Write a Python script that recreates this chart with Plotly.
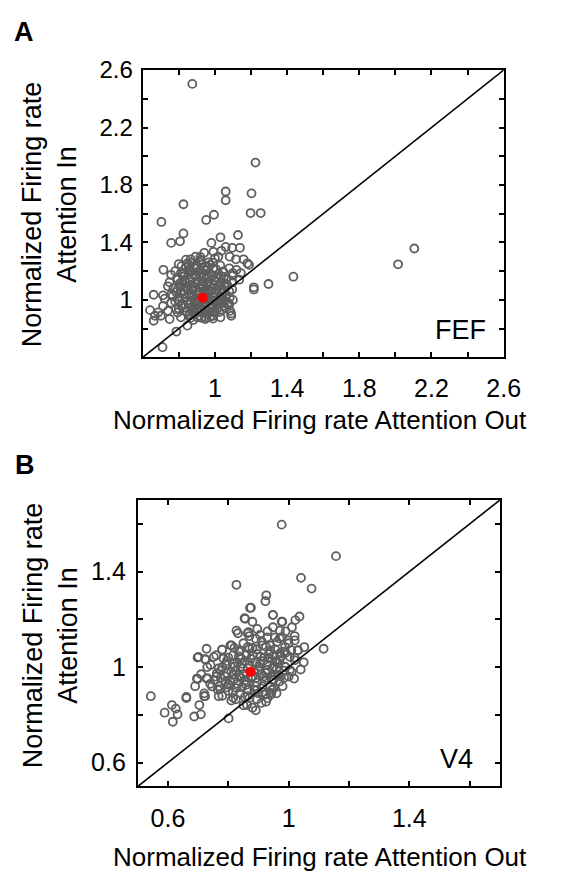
import plotly.graph_objects as go

# ---------------- data ----------------
# Panel A (FEF): (attention out, attention in) normalized firing rates
fef_points = [
    (0.875, 2.504), (1.225, 1.956), (1.060, 1.755), (1.203, 1.742), (1.060, 1.694),
    (0.826, 1.666), (0.995, 1.593), (0.952, 1.557), (1.198, 1.605), (1.254, 1.605),
    (0.704, 1.543), (0.826, 1.463), (0.758, 1.397), (0.807, 1.408), (1.128, 1.452),
    (1.031, 1.436), (0.981, 1.397), (2.105, 1.358), (2.015, 1.248), (1.435, 1.162),
    (1.297, 1.111), (1.216, 1.088), (1.216, 1.073), (0.715, 1.210), (0.661, 1.036),
    (0.641, 0.929), (0.661, 0.855), (0.787, 0.780), (0.848, 0.821), (0.710, 0.671),
    (1.090, 0.906), (1.031, 0.879),
    (0.848, 1.255), (0.866, 1.283), (0.893, 1.301), (0.920, 1.278), (0.941, 1.328),
    (0.965, 1.262), (0.992, 1.335), (1.019, 1.301), (1.037, 1.342), (1.060, 1.369),
    (1.082, 1.301), (1.096, 1.363), (1.117, 1.283), (1.139, 1.363), (1.159, 1.283),
    (1.180, 1.255), (1.189, 1.244), (1.144, 1.187), (1.099, 1.187), (1.046, 1.198),
    (0.992, 1.221), (0.947, 1.210), (0.902, 1.221), (0.857, 1.210), (0.812, 1.187),
    (0.758, 1.175), (0.749, 1.123), (0.794, 1.141), (0.830, 1.164), (0.875, 1.152),
    (0.920, 1.164), (0.965, 1.152), (1.010, 1.152), (1.064, 1.141), (1.099, 1.123),
    (1.135, 1.141), (1.096, 1.073), (1.055, 1.095), (1.019, 1.095), (0.974, 1.095),
    (0.929, 1.107), (0.884, 1.095), (0.839, 1.095), (0.794, 1.073), (0.740, 1.095),
    (0.713, 1.032), (0.722, 1.009), (0.767, 1.027), (0.812, 1.050), (0.857, 1.038),
    (0.902, 1.050), (0.947, 1.038), (0.992, 1.027), (1.037, 1.050), (1.082, 1.016),
    (1.073, 0.981), (1.028, 0.986), (0.983, 0.970), (0.938, 0.981), (0.893, 0.981),
    (0.848, 0.993), (0.803, 0.993), (0.758, 0.981), (0.713, 0.958), (0.686, 0.913),
    (0.740, 0.924), (0.785, 0.936), (0.830, 0.947), (0.875, 0.931), (0.920, 0.947),
    (0.965, 0.924), (1.010, 0.936), (1.055, 0.947), (1.085, 0.924), (1.091, 0.890),
    (0.992, 0.890), (0.947, 0.867), (0.902, 0.879), (0.857, 0.890), (0.812, 0.879),
    (0.749, 0.867), (0.701, 0.890), (0.668, 0.890), (0.794, 0.913), (0.884, 0.913),
    (0.956, 0.901),
    (0.80, 1.25), (0.84, 1.23), (0.87, 1.26), (0.90, 1.24), (0.93, 1.25), (0.96, 1.23),
    (0.99, 1.26), (0.78, 1.20), (0.83, 1.19), (0.88, 1.18), (0.91, 1.20), (0.94, 1.17),
    (0.97, 1.19), (1.02, 1.18), (1.05, 1.16), (0.79, 1.15), (0.82, 1.13), (0.86, 1.14),
    (0.89, 1.12), (0.93, 1.13), (0.96, 1.11), (1.00, 1.13), (1.03, 1.12), (1.07, 1.10),
    (0.77, 1.08), (0.81, 1.09), (0.85, 1.07), (0.88, 1.08), (0.91, 1.06), (0.95, 1.08),
    (0.98, 1.06), (1.01, 1.07), (1.04, 1.08), (1.08, 1.06), (0.76, 1.04), (0.80, 1.02),
    (0.83, 1.04), (0.87, 1.03), (0.90, 1.01), (0.94, 1.02), (0.97, 1.00), (1.00, 1.02),
    (1.03, 1.01), (1.06, 1.03), (1.10, 1.00), (0.78, 0.99), (0.82, 0.97), (0.86, 0.98),
    (0.89, 0.96), (0.92, 0.99), (0.95, 0.97), (0.99, 0.95), (1.02, 0.97), (1.05, 0.96),
    (1.08, 0.97), (0.80, 0.94), (0.84, 0.92), (0.87, 0.95), (0.90, 0.93), (0.93, 0.92),
    (0.97, 0.94), (1.00, 0.91), (1.04, 0.93), (0.86, 0.90), (0.91, 0.89), (0.95, 0.88),
    (0.99, 0.87), (0.88, 0.86), (0.84, 1.28), (0.92, 1.30), (1.00, 1.29), (1.03, 1.24),
    (1.08, 1.22), (1.12, 1.21), (1.10, 1.17),
    (0.815, 1.235), (0.855, 1.245), (0.885, 1.225), (0.915, 1.265), (0.945, 1.235),
    (0.975, 1.245), (1.005, 1.215), (0.825, 1.165), (0.855, 1.175), (0.865, 1.195),
    (0.895, 1.165), (0.925, 1.185), (0.955, 1.175), (0.985, 1.165), (1.035, 1.165),
    (0.805, 1.115), (0.835, 1.125), (0.865, 1.105), (0.905, 1.125), (0.935, 1.095),
    (0.965, 1.125), (0.995, 1.105), (1.025, 1.095), (1.055, 1.115), (0.785, 1.055),
    (0.825, 1.065), (0.845, 1.085), (0.875, 1.065), (0.915, 1.085), (0.935, 1.055),
    (0.965, 1.065), (0.995, 1.045), (1.045, 1.065), (0.795, 1.005), (0.835, 1.015),
    (0.865, 0.995), (0.885, 1.025), (0.915, 1.005), (0.955, 1.015), (0.985, 0.995),
    (1.015, 1.005), (1.055, 0.995), (0.815, 0.955), (0.855, 0.965), (0.885, 0.945),
    (0.905, 0.975), (0.935, 0.955), (0.975, 0.965), (1.015, 0.945), (1.035, 0.975),
    (0.845, 0.915), (0.875, 0.925), (0.915, 0.915), (0.945, 0.935), (0.985, 0.915),
    (1.025, 0.915), (0.865, 0.875), (0.925, 0.875), (0.975, 0.885),
]
fef_mean = (0.932, 1.015)

# Panel B (V4)
v4_points = [
    (0.977, 1.597), (1.157, 1.465), (1.041, 1.374), (1.076, 1.329), (0.827, 1.345),
    (0.926, 1.301), (0.923, 1.276), (0.872, 1.248), (0.948, 1.219), (0.856, 1.202),
    (0.880, 1.190), (0.977, 1.190), (1.036, 1.212), (1.022, 1.197), (0.827, 1.153),
    (0.832, 1.142), (0.896, 1.160), (0.867, 1.146), (1.011, 1.167), (1.116, 1.077),
    (0.728, 1.077), (0.698, 1.040), (0.723, 1.033), (0.780, 1.073), (0.807, 1.091),
    (0.696, 0.952), (0.728, 0.952), (0.543, 0.878), (0.661, 0.875), (0.661, 0.870),
    (0.613, 0.841), (0.626, 0.826), (0.589, 0.809), (0.632, 0.802), (0.616, 0.771),
    (0.687, 0.793), (0.709, 0.802), (0.704, 0.841), (0.723, 0.878), (0.801, 0.785),
    (0.891, 0.819), (0.862, 0.841), (1.018, 0.952), (1.004, 0.988), (1.052, 1.084),
    (0.942, 0.885), (0.923, 0.885),
    (0.875, 1.249), (0.854, 1.205), (0.948, 1.218), (0.979, 1.190), (0.864, 1.142),
    (0.948, 1.167), (0.971, 1.153), (0.929, 1.125), (0.891, 1.119), (0.961, 1.105),
    (0.811, 1.091), (0.779, 1.073), (0.838, 1.070), (0.870, 1.077), (0.913, 1.091),
    (0.939, 1.070), (0.971, 1.057), (0.701, 1.043), (0.725, 1.032), (0.752, 1.043),
    (0.784, 1.036), (0.816, 1.050), (0.843, 1.036), (0.880, 1.050), (0.907, 1.043),
    (0.934, 1.036), (0.961, 1.022), (0.741, 1.009), (0.768, 0.995), (0.795, 1.015),
    (0.821, 1.002), (0.848, 0.995), (0.902, 1.002), (0.929, 0.988), (0.950, 1.002),
    (0.698, 0.950), (0.730, 0.954), (0.762, 0.974), (0.789, 0.961), (0.816, 0.968),
    (0.843, 0.954), (0.891, 0.954), (0.918, 0.961), (0.945, 0.947), (0.972, 0.961),
    (0.746, 0.919), (0.773, 0.908), (0.800, 0.926), (0.827, 0.912), (0.859, 0.926),
    (0.886, 0.905), (0.913, 0.919), (0.939, 0.892), (0.720, 0.878), (0.768, 0.878),
    (0.816, 0.871), (0.864, 0.878),
    (0.977, 1.126), (0.998, 1.112), (1.020, 1.112), (0.988, 1.084), (1.009, 1.071),
    (1.031, 1.071), (1.004, 1.043), (1.020, 1.029), (0.966, 1.016), (0.988, 1.002),
    (0.950, 0.947), (0.939, 0.919), (0.966, 0.967),
    (0.80, 1.04), (0.83, 1.02), (0.86, 1.05), (0.89, 1.02), (0.92, 1.04), (0.95, 1.05),
    (0.78, 1.00), (0.81, 0.98), (0.84, 1.00), (0.87, 1.01), (0.90, 0.99), (0.93, 1.01),
    (0.96, 0.99), (0.99, 1.00), (0.76, 0.96), (0.79, 0.94), (0.82, 0.95), (0.85, 0.97),
    (0.88, 0.96), (0.91, 0.97), (0.94, 0.96), (0.97, 0.94), (1.00, 0.96), (0.74, 0.93),
    (0.77, 0.92), (0.80, 0.90), (0.83, 0.93), (0.86, 0.94), (0.89, 0.92), (0.92, 0.94),
    (0.95, 0.91), (0.98, 0.92), (0.78, 0.88), (0.81, 0.86), (0.84, 0.89), (0.87, 0.87),
    (0.90, 0.89), (0.93, 0.87), (0.96, 0.89), (0.85, 0.84), (0.88, 0.83), (0.91, 0.85),
    (0.82, 1.08), (0.85, 1.10), (0.88, 1.08), (0.91, 1.11), (0.94, 1.09), (0.97, 1.12),
    (1.00, 1.10), (1.03, 1.07), (1.02, 1.04), (1.05, 1.02), (0.99, 1.06), (0.97, 1.03),
    (1.01, 0.98), (1.04, 0.99), (0.87, 1.13), (0.93, 1.15), (0.99, 1.15), (1.02, 1.13),
    (0.76, 1.05), (0.73, 1.00), (0.71, 0.97), (0.69, 0.92), (0.72, 0.89),
    (0.795, 1.025), (0.815, 1.015), (0.835, 1.045), (0.855, 1.025), (0.875, 1.035),
    (0.895, 1.055), (0.915, 1.025), (0.935, 1.055), (0.955, 1.025), (0.975, 1.045),
    (0.775, 0.985), (0.795, 0.975), (0.825, 0.985), (0.845, 1.015), (0.865, 0.995),
    (0.885, 0.985), (0.905, 1.015), (0.925, 0.975), (0.945, 0.995), (0.985, 0.985),
    (0.755, 0.945), (0.775, 0.955), (0.805, 0.945), (0.835, 0.965), (0.855, 0.945),
    (0.875, 0.955), (0.895, 0.935), (0.925, 0.955), (0.955, 0.965), (0.985, 0.955),
    (0.765, 0.905), (0.795, 0.915), (0.815, 0.895), (0.845, 0.915), (0.865, 0.905),
    (0.895, 0.905), (0.915, 0.895), (0.945, 0.905), (0.825, 0.865), (0.855, 0.875),
    (0.895, 0.865), (0.925, 0.855), (0.835, 1.065), (0.865, 1.085), (0.895, 1.075),
    (0.925, 1.085), (0.955, 1.075), (0.985, 1.065), (0.905, 1.135), (0.955, 1.125),
]
v4_mean = (0.873, 0.980)

fef_range = [0.6, 2.6]
fef_ticks = [0.6, 0.8, 1.0, 1.2, 1.4, 1.6, 1.8, 2.0, 2.2, 2.4, 2.6]
fef_ticktext = ["", "", "1", "", "1.4", "", "1.8", "", "2.2", "", "2.6"]

v4_range = [0.5, 1.7]
v4_ticks = [0.6, 0.8, 1.0, 1.2, 1.4, 1.6]
v4_ticktext = ["0.6", "", "1", "", "1.4", ""]

x_title = "Normalized Firing rate Attention Out"
y_title = "Normalized Firing rate<br>Attention In"
fef_label = "FEF"
v4_label = "V4"

# ---------------- styling ----------------
FONT = "Liberation Sans, Arial, sans-serif"
W, H = 576, 873
GRAY = "#5e5e5e"

fig = go.Figure()


def add_panel(points, mean, rng, xa, ya):
    xs = [p[0] for p in points]
    ys = [p[1] for p in points]
    fig.add_trace(go.Scatter(
        x=xs, y=ys, mode="markers", xaxis=xa, yaxis=ya,
        marker=dict(symbol="circle-open", size=8, color=GRAY,
                    line=dict(width=1.8, color=GRAY)),
        showlegend=False, hoverinfo="skip"))
    fig.add_trace(go.Scatter(
        x=rng, y=rng, mode="lines", xaxis=xa, yaxis=ya,
        line=dict(color="black", width=1.6), showlegend=False, hoverinfo="skip"))
    fig.add_trace(go.Scatter(
        x=[mean[0]], y=[mean[1]], mode="markers", xaxis=xa, yaxis=ya,
        marker=dict(symbol="circle", size=10, color="#ff0000"),
        showlegend=False, hoverinfo="skip"))


add_panel(fef_points, fef_mean, fef_range, "x", "y")
add_panel(v4_points, v4_mean, v4_range, "x2", "y2")


def axis(rng, ticks, text, domain, anchor, size, standoff):
    return dict(
        range=rng, domain=domain, anchor=anchor,
        tickmode="array", tickvals=ticks, ticktext=text,
        ticks="inside", ticklen=5, tickwidth=1.5, tickcolor="black",
        showline=True, linecolor="black", linewidth=2, mirror="ticks",
        showgrid=False, zeroline=False,
        tickfont=dict(family=FONT, size=size, color="black"),
        ticklabelstandoff=standoff,
    )


fig.update_layout(
    width=W, height=H,
    margin=dict(l=0, r=0, t=0, b=0),
    paper_bgcolor="white", plot_bgcolor="white",
    xaxis=axis(fef_range, fef_ticks, fef_ticktext, [147 / W, 519 / W], "y", 25, 8),
    yaxis=axis(fef_range, fef_ticks, fef_ticktext, [1 - 349 / H, 1 - 57 / H], "x", 24, 3),
    xaxis2=axis(v4_range, v4_ticks, v4_ticktext, [142 / W, 515 / W], "y2", 25, 9),
    yaxis2=axis(v4_range, v4_ticks, v4_ticktext, [1 - 785 / H, 1 - 494 / H], "x2", 25, 5),
)


def pann(text, xp, yp, size, angle=0):
    return dict(text=text, x=xp / W, y=1 - yp / H, xref="paper", yref="paper",
                xanchor="center", yanchor="middle", showarrow=False, textangle=angle,
                font=dict(family=FONT, size=size, color="black"))


ann = [
    pann("<b>A</b>", 25, 18, 27),
    pann("<b>B</b>", 26, 458, 27),
    pann(x_title, 330, 413, 26),
    pann(x_title, 330, 857, 26),
    pann(y_title, 51, 203, 27, -90),
    pann(y_title, 52, 631, 27, -90),
    dict(text=fef_label, x=2.36, y=0.79, xref="x", yref="y", xanchor="center",
         yanchor="middle", showarrow=False, font=dict(family=FONT, size=27, color="black")),
    dict(text=v4_label, x=1.556, y=0.615, xref="x2", yref="y2", xanchor="center",
         yanchor="middle", showarrow=False, font=dict(family=FONT, size=27, color="black")),
]
fig.update_layout(annotations=ann)

fig.write_html("out.html")
